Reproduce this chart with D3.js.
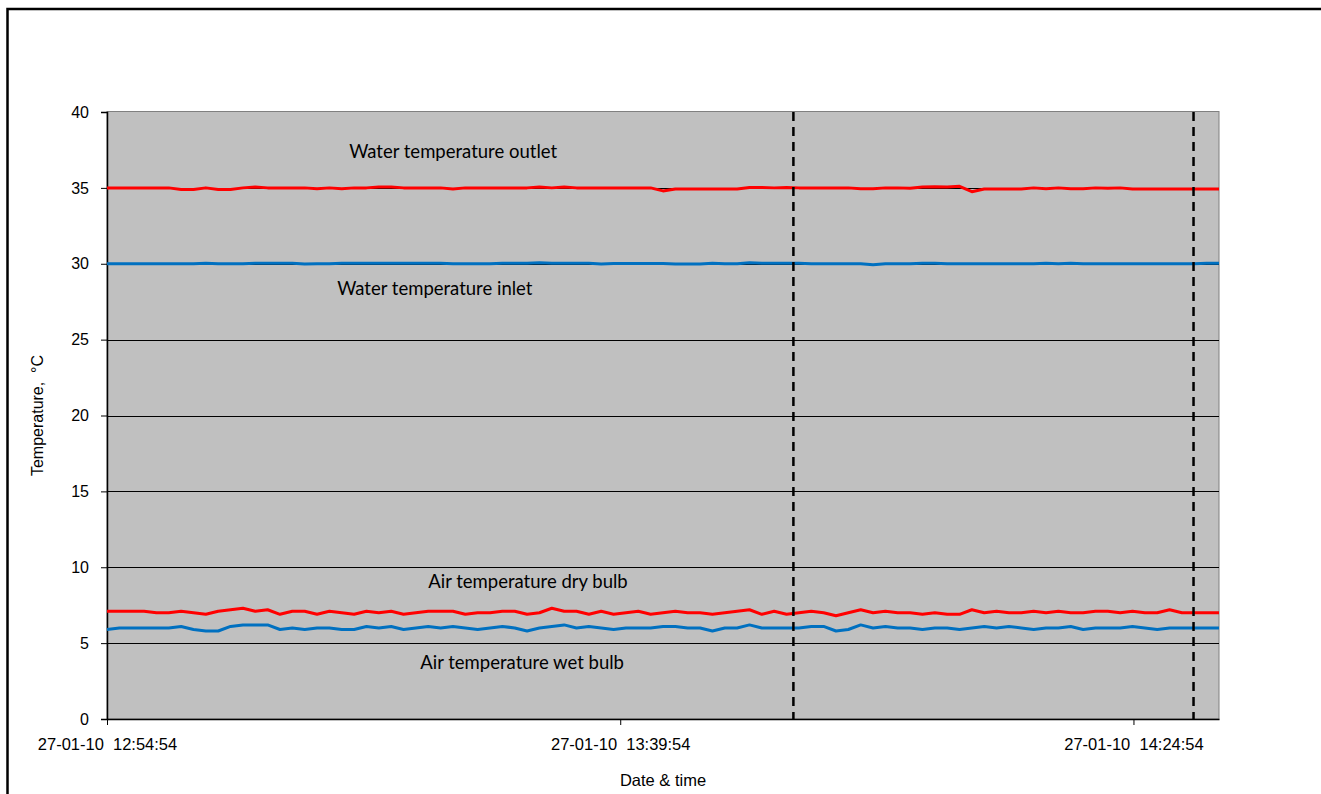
<!DOCTYPE html>
<html>
<head>
<meta charset="utf-8">
<script src="https://cdn.jsdelivr.net/npm/d3@7"></script>
<style>
  html, body { margin: 0; padding: 0; background: #fff; overflow: hidden; }
</style>
</head>
<body>
<div id="chart"></div>
<script>
// logger samples: first reading and interval between readings (seconds)
const startTime = "2010-01-27 12:54:54";
const stepSeconds = 65;

const waterOutlet = [
  35.0, 35.0, 35.0, 35.0, 35.0, 35.0, 34.9, 34.9, 35.0, 34.9,
  34.9, 35.0, 35.05, 35.0, 35.0, 35.0, 35.0, 34.95, 35.0, 34.95,
  35.0, 35.0, 35.05, 35.05, 35.0, 35.0, 35.0, 35.0, 34.92, 35.0,
  35.0, 35.0, 35.0, 35.0, 35.0, 35.05, 35.0, 35.05, 35.0, 35.0,
  35.0, 35.0, 35.0, 35.0, 35.0, 34.8, 34.93, 34.93, 34.93, 34.93,
  34.93, 34.93, 35.03, 35.03, 35.0, 35.03, 35.0, 35.0, 35.0, 35.0,
  35.0, 34.95, 34.95, 35.0, 35.0, 34.97, 35.05, 35.08, 35.05, 35.1,
  34.75, 34.93, 34.93, 34.93, 34.93, 35.0, 34.95, 35.0, 34.95, 34.95,
  35.0, 34.97, 35.0, 34.92, 34.92, 34.92, 34.92, 34.92, 34.92, 34.92,
  34.92
];

const waterInlet = [
  30.0, 30.0, 30.0, 30.0, 30.0, 30.0, 30.0, 30.0, 30.03, 30.0,
  30.0, 30.0, 30.03, 30.03, 30.03, 30.03, 29.98, 30.0, 30.0, 30.03,
  30.03, 30.03, 30.03, 30.03, 30.03, 30.03, 30.03, 30.03, 30.0, 30.0,
  30.0, 30.0, 30.03, 30.03, 30.03, 30.07, 30.03, 30.03, 30.03, 30.03,
  29.98, 30.02, 30.02, 30.02, 30.02, 30.02, 29.98, 29.98, 29.98, 30.03,
  30.0, 30.0, 30.07, 30.03, 30.03, 30.03, 30.03, 30.0, 30.0, 30.0,
  30.0, 30.0, 29.93, 30.0, 30.0, 30.0, 30.04, 30.03, 30.0, 30.0,
  30.0, 30.0, 30.0, 30.0, 30.0, 30.0, 30.04, 30.0, 30.04, 30.0,
  30.0, 30.0, 30.0, 30.0, 30.0, 30.0, 30.0, 30.0, 30.0, 30.04,
  30.03
];

const airDryBulb = [
  7.1, 7.1, 7.1, 7.1, 7.0, 7.0, 7.1, 7.0, 6.9, 7.1,
  7.2, 7.3, 7.1, 7.2, 6.9, 7.1, 7.1, 6.9, 7.1, 7.0,
  6.9, 7.1, 7.0, 7.1, 6.9, 7.0, 7.1, 7.1, 7.1, 6.9,
  7.0, 7.0, 7.1, 7.1, 6.9, 7.0, 7.3, 7.1, 7.1, 6.9,
  7.1, 6.9, 7.0, 7.1, 6.9, 7.0, 7.1, 7.0, 7.0, 6.9,
  7.0, 7.1, 7.2, 6.9, 7.1, 6.9, 7.0, 7.1, 7.0, 6.8,
  7.0, 7.2, 7.0, 7.1, 7.0, 7.0, 6.9, 7.0, 6.9, 6.9,
  7.2, 7.0, 7.1, 7.0, 7.0, 7.1, 7.0, 7.1, 7.0, 7.0,
  7.1, 7.1, 7.0, 7.1, 7.0, 7.0, 7.2, 7.0, 7.0, 7.0,
  7.0
];

const airWetBulb = [
  5.9, 6.0, 6.0, 6.0, 6.0, 6.0, 6.1, 5.9, 5.8, 5.8,
  6.1, 6.2, 6.2, 6.2, 5.9, 6.0, 5.9, 6.0, 6.0, 5.9,
  5.9, 6.1, 6.0, 6.1, 5.9, 6.0, 6.1, 6.0, 6.1, 6.0,
  5.9, 6.0, 6.1, 6.0, 5.8, 6.0, 6.1, 6.2, 6.0, 6.1,
  6.0, 5.9, 6.0, 6.0, 6.0, 6.1, 6.1, 6.0, 6.0, 5.8,
  6.0, 6.0, 6.2, 6.0, 6.0, 6.0, 6.0, 6.1, 6.1, 5.8,
  5.9, 6.2, 6.0, 6.1, 6.0, 6.0, 5.9, 6.0, 6.0, 5.9,
  6.0, 6.1, 6.0, 6.1, 6.0, 5.9, 6.0, 6.0, 6.1, 5.9,
  6.0, 6.0, 6.0, 6.1, 6.0, 5.9, 6.0, 6.0, 6.0, 6.0,
  6.0
];

const xTickLabels = ["12:54:54", "13:39:54", "14:24:54"];
const markerTimes = ["13:55:05", "14:30:10"];
const yTicks = [0, 5, 10, 15, 20, 25, 30, 35, 40];
const endTime = "2010-01-27 14:32:24";

const seriesList = [
  { name: "Water temperature outlet", values: waterOutlet, color: "#ff0000" },
  { name: "Water temperature inlet", values: waterInlet, color: "#0070c0" },
  { name: "Air temperature dry bulb", values: airDryBulb, color: "#ff0000" },
  { name: "Air temperature wet bulb", values: airWetBulb, color: "#0070c0" }
];

const labels = [
  { text: "Water temperature outlet", time: "13:16:08", value: 37.0 },
  { text: "Water temperature inlet", time: "13:15:05", value: 27.95 },
  { text: "Air temperature dry bulb", time: "13:23:04", value: 8.6 },
  { text: "Air temperature wet bulb", time: "13:22:22", value: 3.3 }
];

const width = 1321;
const height = 794;
const margin = { top: 112, right: 102, bottom: 75, left: 107 };

const parseFull = d3.timeParse("%Y-%m-%d %H:%M:%S");
const parseClock = s => parseFull("2010-01-27 " + s);
const t0 = parseFull(startTime);
const times = waterOutlet.map((d, i) => d3.timeSecond.offset(t0, i * stepSeconds));

const x = d3.scaleTime()
  .domain([t0, parseFull(endTime)])
  .range([margin.left, width - margin.right]);
const y = d3.scaleLinear()
  .domain([0, 40])
  .range([height - margin.bottom, margin.top]);

const svg = d3.select("#chart")
  .append("svg")
  .attr("width", width)
  .attr("height", height)
  .style("display", "block")
  .style("font-family", "'Liberation Sans', Arial, sans-serif");

// outer chart frame: only top and left edges are inside the picture
svg.append("path")
  .attr("d", "M7.5," + (height + 10) + "V9H" + (width + 10))
  .attr("fill", "none")
  .attr("stroke", "#000")
  .attr("stroke-width", 2.5);

// plot area
svg.append("rect")
  .attr("x", x.range()[0])
  .attr("y", y(40) - 0.5)
  .attr("width", x.range()[1] - x.range()[0])
  .attr("height", y(0) - y(40) + 0.5)
  .attr("fill", "#c0c0c0")
  .attr("stroke", "#808080")
  .attr("stroke-width", 1);

// gridlines
svg.append("g")
  .selectAll("line")
  .data(yTicks.filter(d => d > 0 && d < 40))
  .enter()
  .append("line")
  .attr("x1", x.range()[0])
  .attr("x2", x.range()[1])
  .attr("y1", d => Math.round(y(d)) + 0.5)
  .attr("y2", d => Math.round(y(d)) + 0.5)
  .attr("stroke", "#000")
  .attr("stroke-width", 1);

// y axis
const yAxis = svg.append("g")
  .attr("transform", "translate(" + x.range()[0] + ",0)")
  .call(d3.axisLeft(y).tickValues(yTicks).tickSize(6).tickPadding(12).tickFormat(d3.format("d")));
yAxis.selectAll("text").attr("font-size", 16).attr("fill", "#000").attr("font-family", null);
yAxis.select(".domain").attr("stroke", "#000").attr("stroke-width", 1.5);
yAxis.selectAll(".tick line").attr("stroke", "#000");

// x axis
const xAxis = svg.append("g")
  .attr("transform", "translate(0," + y(0) + ")")
  .call(d3.axisBottom(x)
    .tickValues(xTickLabels.map(parseClock))
    .tickSize(6)
    .tickSizeOuter(0)
    .tickPadding(13)
    .tickFormat(d3.timeFormat("%d-%m-%y  %H:%M:%S")));
xAxis.selectAll("text")
  .attr("font-size", 16.5)
  .attr("fill", "#000")
  .attr("font-family", null)
  .style("white-space", "pre");
xAxis.select(".domain").attr("stroke", "#000").attr("stroke-width", 1.5);
xAxis.selectAll(".tick line").attr("stroke", "#000");

// data lines
const line = d3.line()
  .x((d, i) => x(times[i]))
  .y(d => y(d));

svg.append("g")
  .selectAll("path")
  .data(seriesList)
  .enter()
  .append("path")
  .attr("d", s => line(s.values))
  .attr("fill", "none")
  .attr("stroke", s => s.color)
  .attr("stroke-width", 3)
  .attr("stroke-linejoin", "round");

// dashed markers
svg.append("g")
  .selectAll("line")
  .data(markerTimes)
  .enter()
  .append("line")
  .attr("x1", d => x(parseClock(d)))
  .attr("x2", d => x(parseClock(d)))
  .attr("y1", y(40))
  .attr("y2", y(0))
  .attr("stroke", "#000")
  .attr("stroke-width", 2.5)
  .attr("stroke-dasharray", "9,6");

// series labels
svg.append("g")
  .selectAll("text")
  .data(labels)
  .enter()
  .append("text")
  .attr("x", d => x(parseClock(d.time)))
  .attr("y", d => y(d.value))
  .attr("font-family", "Lato, 'Open Sans', sans-serif")
  .attr("font-size", 18.5)
  .attr("fill", "#000")
  .text(d => d.text);

// axis titles
svg.append("text")
  .attr("x", (x.range()[0] + x.range()[1]) / 2)
  .attr("y", 786)
  .attr("text-anchor", "middle")
  .attr("font-size", 16.5)
  .text("Date & time");

svg.append("text")
  .attr("transform", "translate(43," + ((y(0) + y(40)) / 2) + ") rotate(-90)")
  .attr("text-anchor", "middle")
  .attr("font-size", 16)
  .style("white-space", "pre")
  .text("Temperature,  °C");

// keep the right margin clean
svg.append("rect")
  .attr("x", width - 12)
  .attr("y", 12)
  .attr("width", 12)
  .attr("height", height)
  .attr("fill", "#fff");
</script>
</body>
</html>
